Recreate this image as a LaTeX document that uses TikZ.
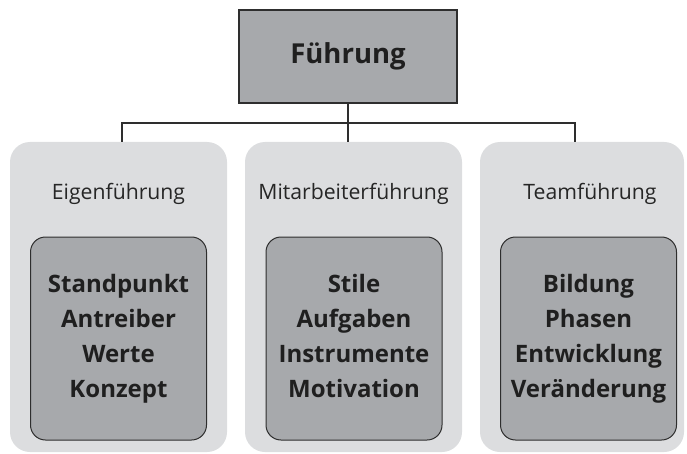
\documentclass[tikz,border=0pt]{standalone}
\usepackage{fontspec}
\setmainfont{Open Sans}
\usepackage{tikz}
\usetikzlibrary{positioning, calc}
\definecolor{boxgray}{HTML}{A7A9AC}
\definecolor{panelgray}{HTML}{DCDDDF}
\definecolor{linegray}{HTML}{2E2E2E}

\begin{document}
\begin{tikzpicture}[x=1pt, y=1pt,
    every node/.style={inner sep=0pt},
    headbox/.style={rectangle, draw=linegray, line width=1.3pt, fill=boxgray, minimum width=218pt, minimum height=93pt, font=\fontsize{27.5}{30}\selectfont\bfseries, text=black!88},
    panel/.style={rectangle, rounded corners=20pt, fill=panelgray, minimum height=310pt},
    topic/.style={font=\fontsize{21.2}{24}\selectfont, text=black!85},
    itembox/.style={rectangle, rounded corners=15pt, draw=linegray, line width=1pt, fill=boxgray, minimum width=176pt, minimum height=203pt, align=center, font=\fontsize{24}{35}\selectfont\bfseries, text=black!88}]
    \useasboundingbox (0,0) rectangle (687,453);

    \node[headbox] (top) at (348,396.5) {Führung};

    % Panels
    \node[panel, minimum width=217pt] (eigen) at (118.5,156) {};
    \node[panel, minimum width=217pt] (mitarbeiter) at (353.5,156) {};
    \node[panel, minimum width=204pt] (team) at (582,156) {};

    \node[topic] (eigenlabel) at (118.5,259) {Eigenführung};
    \node[topic] (mitarbeiterlabel) at (353.5,259) {Mitarbeiterführung};
    \node[topic] (teamlabel) at (590,259) {Teamführung};

    \node[itembox] (eigenitems) at (118.5,114.5) {Standpunkt\\Antreiber\\Werte\\Konzept};
    \node[itembox] (mitarbeiteritems) at (354,114.5) {Stile\\Aufgaben\\Instrumente\\Motivation\vphantom{g}};
    \node[itembox] (teamitems) at (588.5,114.5) {Bildung\\Phasen\\Entwicklung\\Veränderung};

    % Connectors
    \coordinate (bar) at (348,330);
    \coordinate (dl) at (122,311);
    \coordinate (dr) at (575,311);
    \draw[linegray, line width=1.3pt] (top.south) -- (top.south |- dl);
    \draw[linegray, line width=1.3pt] (dl) |- (bar) -| (dr);
\end{tikzpicture}
\end{document}
